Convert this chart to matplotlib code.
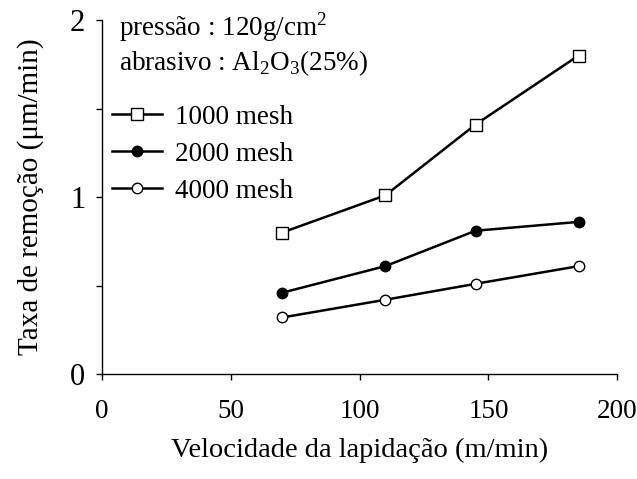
import matplotlib
matplotlib.use("Agg")
import matplotlib.pyplot as plt
from matplotlib.ticker import MultipleLocator

plt.rcParams['font.family'] = ['Liberation Serif', 'DejaVu Serif']
plt.rcParams['mathtext.fontset'] = 'custom'
plt.rcParams['mathtext.rm'] = 'Liberation Serif'

# dados
velocidade = [70, 110, 145, 185]
taxa_1000 = [0.80, 1.01, 1.41, 1.80]
taxa_2000 = [0.46, 0.61, 0.81, 0.86]
taxa_4000 = [0.32, 0.42, 0.51, 0.61]
rotulos = ["1000 mesh", "2000 mesh", "4000 mesh"]

fig = plt.figure(figsize=(6.37, 4.79), dpi=100)
ax = fig.add_axes([0.160, 0.219, 0.809, 0.739])

ax.plot(velocidade, taxa_1000, color='black', lw=1.8, marker='s', ms=9,
        mfc='white', mec='black', mew=1.0, label=rotulos[0])
ax.plot(velocidade, taxa_2000, color='black', lw=1.8, marker='o', ms=7.5,
        mfc='black', mec='black', mew=1.0, label=rotulos[1])
ax.plot(velocidade, taxa_4000, color='black', lw=1.8, marker='o', ms=7.5,
        mfc='white', mec='black', mew=1.0, label=rotulos[2])

ax.set_xlim(0, 200)
ax.set_ylim(0, 2)
ax.xaxis.set_major_locator(MultipleLocator(50))
ax.yaxis.set_major_locator(MultipleLocator(1))
ax.yaxis.set_minor_locator(MultipleLocator(0.5))

for s in ['top', 'right']:
    ax.spines[s].set_visible(False)
for s in ['left', 'bottom']:
    ax.spines[s].set_linewidth(1.0)

ax.tick_params(axis='x', direction='out', length=4, width=1.0, pad=14, labelsize=19.5)
ax.tick_params(axis='y', direction='out', length=4, width=1.0, pad=8, labelsize=22)
ax.tick_params(axis='y', which='minor', direction='out', length=4, width=1.0)

ax.set_xlabel("Velocidade da lapidação (m/min)", fontsize=20.5, labelpad=10)
ax.set_ylabel("Taxa de remoção (μm/min)", fontsize=21, labelpad=19)

ax.text(6.6, 1.91, "pressão : 120g/cm$^2$", fontsize=19.5,
        va='baseline', ha='left')
ax.text(6.6, 1.717, "abrasivo : Al$_2$O$_3$(25%)", fontsize=19.5,
        va='baseline', ha='left')

ax.legend(loc='center left', bbox_to_anchor=(0.02, 0.621), frameon=False,
          fontsize=19.5, handlelength=1.85, handletextpad=0.45,
          labelspacing=0.45, borderaxespad=0.0, borderpad=0.0)

fig.savefig("out.png", dpi=100)
